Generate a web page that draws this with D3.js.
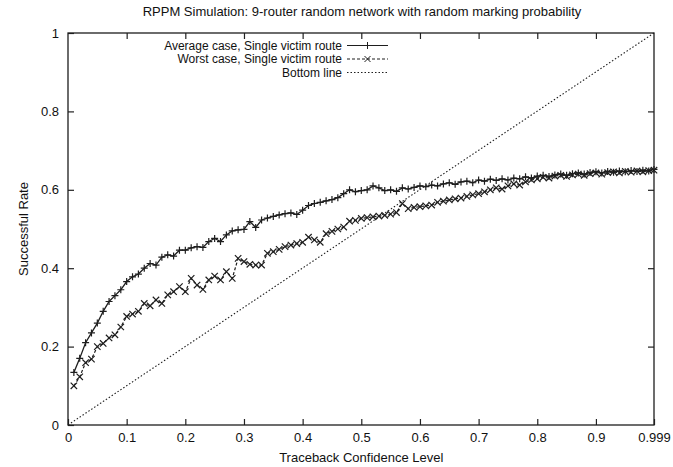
<!DOCTYPE html>
<html>
<head>
<meta charset="utf-8">
<script src="https://cdn.jsdelivr.net/npm/d3@7"></script>
<style>
  body { margin: 0; background: #fff; }
  svg { font-family: "Liberation Sans", Arial, sans-serif; }
  .axis text { font-size: 13px; fill: #111; }
  .axis path { display: none; }
  .axis line { stroke: #222; stroke-width: 1.2; }
</style>
</head>
<body>
<svg id="chart" width="673" height="467"></svg>
<script>
// x values of the simulation runs
const confidence = [0.01,0.02,0.03,0.04,0.05,0.06,0.07,0.08,0.09,0.10,
  0.11,0.12,0.13,0.14,0.15,0.16,0.17,0.18,0.19,0.20,
  0.21,0.22,0.23,0.24,0.25,0.26,0.27,0.28,0.29,0.30,
  0.31,0.32,0.33,0.34,0.35,0.36,0.37,0.38,0.39,0.40,
  0.41,0.42,0.43,0.44,0.45,0.46,0.47,0.48,0.49,0.50,
  0.51,0.52,0.53,0.54,0.55,0.56,0.57,0.58,0.59,0.60,
  0.61,0.62,0.63,0.64,0.65,0.66,0.67,0.68,0.69,0.70,
  0.71,0.72,0.73,0.74,0.75,0.76,0.77,0.78,0.79,0.80,
  0.81,0.82,0.83,0.84,0.85,0.86,0.87,0.88,0.89,0.90,
  0.91,0.92,0.93,0.94,0.95,0.96,0.97,0.98,0.99,0.999];

const averageCase = [0.134,0.17,0.21,0.235,0.26,0.29,0.315,0.33,0.345,0.366,
  0.378,0.385,0.40,0.412,0.408,0.428,0.434,0.431,0.446,0.446,
  0.452,0.455,0.453,0.468,0.476,0.468,0.485,0.495,0.498,0.499,
  0.519,0.504,0.523,0.528,0.532,0.536,0.539,0.541,0.537,0.548,
  0.56,0.565,0.568,0.572,0.575,0.58,0.59,0.60,0.595,0.598,
  0.60,0.61,0.605,0.598,0.60,0.596,0.605,0.602,0.606,0.61,
  0.608,0.612,0.61,0.615,0.618,0.614,0.62,0.622,0.618,0.625,
  0.622,0.627,0.624,0.628,0.625,0.63,0.628,0.633,0.63,0.635,
  0.637,0.634,0.638,0.64,0.637,0.641,0.643,0.64,0.644,0.646,
  0.643,0.647,0.645,0.648,0.646,0.649,0.647,0.65,0.648,0.652];

const worstCase = [0.10,0.123,0.159,0.168,0.20,0.208,0.222,0.23,0.25,0.277,
  0.283,0.29,0.31,0.304,0.319,0.31,0.332,0.34,0.353,0.34,
  0.374,0.357,0.346,0.37,0.38,0.37,0.391,0.374,0.425,0.417,
  0.41,0.408,0.408,0.438,0.442,0.448,0.455,0.459,0.463,0.466,
  0.479,0.472,0.466,0.488,0.494,0.50,0.505,0.52,0.522,0.527,
  0.529,0.531,0.533,0.535,0.538,0.542,0.565,0.552,0.555,0.557,
  0.559,0.561,0.568,0.571,0.574,0.577,0.579,0.583,0.587,0.59,
  0.595,0.60,0.605,0.602,0.61,0.615,0.612,0.62,0.625,0.628,
  0.632,0.63,0.635,0.637,0.634,0.638,0.64,0.637,0.641,0.643,
  0.64,0.644,0.646,0.643,0.647,0.645,0.648,0.646,0.649,0.65];

const bottomLine = [[0, 0], [0.999, 1]];

const xTicks = [0,0.1,0.2,0.3,0.4,0.5,0.6,0.7,0.8,0.9,0.999];
const yTicks = [0,0.2,0.4,0.6,0.8,1];

const svg = d3.select('#chart');
const margin = { left: 68, right: 19, top: 33, bottom: 42 };
const W = 673, H = 467;

const x = d3.scaleLinear().domain([0, 0.999]).range([margin.left, W - margin.right]);
const y = d3.scaleLinear().domain([0, 1]).range([H - margin.bottom, margin.top]);

const ink = '#1e1e1e';

// axes with inward ticks on every side
svg.append('g').attr('class', 'axis')
  .attr('transform', `translate(0,${y(0)})`)
  .call(d3.axisBottom(x).tickValues(xTicks).tickSize(-6).tickPadding(8)
    .tickFormat(d => d === 0.999 ? '0.999' : d3.format('~g')(d)));

svg.append('g').attr('class', 'axis')
  .attr('transform', `translate(0,${y(1)})`)
  .call(d3.axisTop(x).tickValues(xTicks.slice(1, -1)).tickSize(-6).tickFormat(''));

svg.append('g').attr('class', 'axis')
  .attr('transform', `translate(${x(0)},0)`)
  .call(d3.axisLeft(y).tickValues(yTicks).tickSize(-6).tickPadding(9)
    .tickFormat(d3.format('~g')));

svg.append('g').attr('class', 'axis')
  .attr('transform', `translate(${x(0.999)},0)`)
  .call(d3.axisRight(y).tickValues(yTicks.slice(1, -1)).tickSize(-6).tickFormat(''));

svg.append('rect')
  .attr('x', x(0)).attr('y', y(1))
  .attr('width', x(0.999) - x(0)).attr('height', y(0) - y(1))
  .attr('fill', 'none').attr('stroke', ink).attr('stroke-width', 1.3);

// titles
svg.append('text').text('RPPM Simulation: 9-router random network with random marking probability')
  .attr('x', 362).attr('y', 16).attr('text-anchor', 'middle')
  .style('font-size', '13px').attr('fill', '#111');

svg.append('text').text('Traceback Confidence Level')
  .attr('x', x(0.5)).attr('y', 462).attr('text-anchor', 'middle')
  .style('font-size', '13px').attr('fill', '#111');

svg.append('text').text('Successful Rate')
  .attr('transform', `translate(28,${(y(0) + y(1)) / 2}) rotate(-90)`)
  .attr('text-anchor', 'middle')
  .style('font-size', '13px').attr('fill', '#111');

const line = d3.line().x(d => x(d[0])).y(d => y(d[1]));
const avgPts = confidence.map((c, i) => [c, averageCase[i]]);
const worstPts = confidence.map((c, i) => [c, worstCase[i]]);

// bottom line
svg.append('path').datum(bottomLine).attr('d', line)
  .attr('fill', 'none').attr('stroke', ink).attr('stroke-width', 1.1)
  .attr('stroke-dasharray', '1.5,2');

// worst case
svg.append('path').datum(worstPts).attr('d', line)
  .attr('fill', 'none').attr('stroke', ink).attr('stroke-width', 1.2)
  .attr('stroke-dasharray', '3,2');

const crossPath = s => `M${-s},${-s}L${s},${s}M${-s},${s}L${s},${-s}`;
const plusPath = s => `M${-s},0L${s},0M0,${-s}L0,${s}`;

svg.append('g').selectAll('path').data(worstPts).enter().append('path')
  .attr('transform', d => `translate(${x(d[0])},${y(d[1])})`)
  .attr('d', crossPath(3.2)).attr('stroke', ink).attr('stroke-width', 1.2).attr('fill', 'none');

// average case
svg.append('path').datum(avgPts).attr('d', line)
  .attr('fill', 'none').attr('stroke', ink).attr('stroke-width', 1.3);

svg.append('g').selectAll('path').data(avgPts).enter().append('path')
  .attr('transform', d => `translate(${x(d[0])},${y(d[1])})`)
  .attr('d', plusPath(3.5)).attr('stroke', ink).attr('stroke-width', 1.2).attr('fill', 'none');

// legend
const legend = [
  { label: 'Average case, Single victim route', dash: null, mark: plusPath(3.5) },
  { label: 'Worst case, Single victim route', dash: '3,2', mark: crossPath(3) },
  { label: 'Bottom line', dash: '1.5,2', mark: null }
];
const lg = svg.append('g');
legend.forEach((l, i) => {
  const ly = 45.5 + i * 13.5;
  lg.append('text').text(l.label)
    .attr('x', 342).attr('y', ly + 4.3).attr('text-anchor', 'end')
    .style('font-size', '12px').attr('fill', '#111');
  lg.append('line').attr('x1', 347).attr('x2', 388).attr('y1', ly).attr('y2', ly)
    .attr('stroke', ink).attr('stroke-width', 1.1)
    .attr('stroke-dasharray', l.dash);
  if (l.mark) {
    lg.append('path').attr('transform', `translate(367.5,${ly})`)
      .attr('d', l.mark).attr('stroke', ink).attr('fill', 'none');
  }
});
</script>
</body>
</html>
